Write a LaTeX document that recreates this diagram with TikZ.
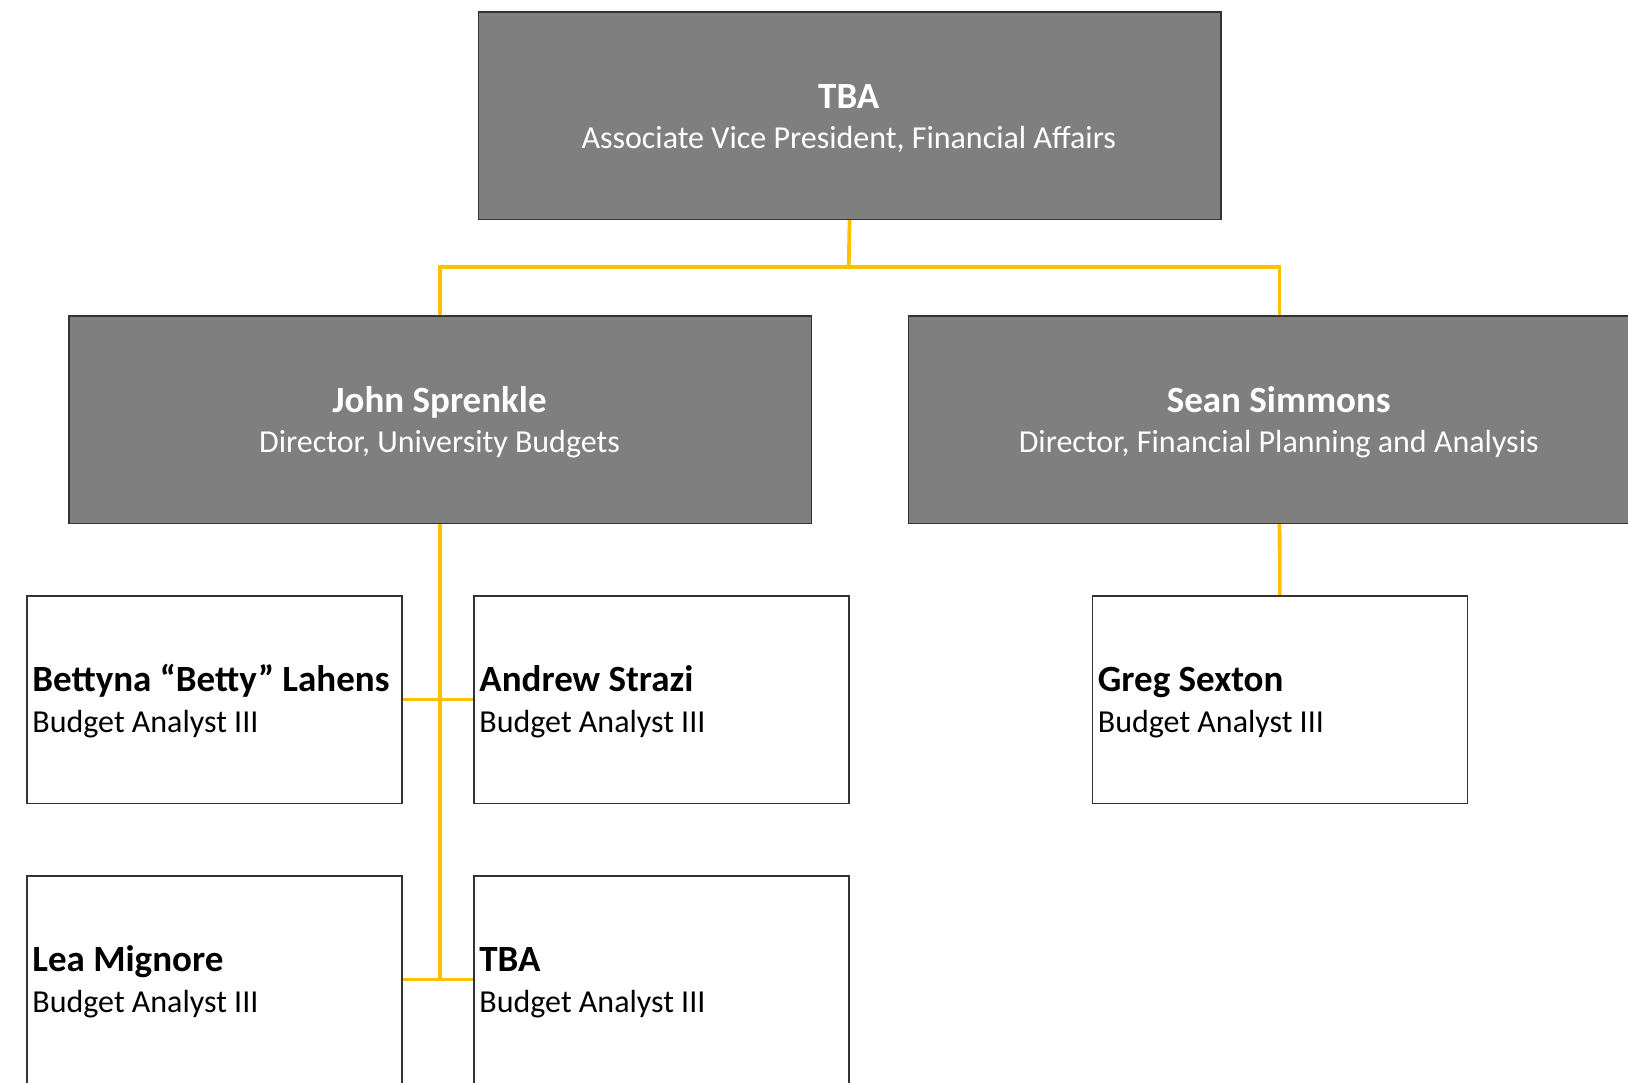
\documentclass[tikz,border=0pt]{standalone}
\usepackage{fontspec}
\setmainfont{Carlito}
\usetikzlibrary{backgrounds}
\definecolor{boxgray}{HTML}{7F7F7F}
\definecolor{boxline}{HTML}{333333}
\definecolor{linkgold}{HTML}{FFC000}
\begin{document}
\begin{tikzpicture}[x=0.5pt,y=-0.5pt,
  graybox/.style={draw=boxline, line width=0.8pt, fill=boxgray, minimum width=371.25pt, minimum height=103.75pt, inner sep=0pt, anchor=north west},
  whitebox/.style={draw=boxline, line width=0.8pt, fill=white, minimum width=187.5pt, minimum height=103.75pt, inner sep=0pt, anchor=north west},
  grayname/.style={font=\fontsize{18.5}{20}\selectfont\bfseries, text=white, inner sep=0pt, anchor=base},
  graytitle/.style={font=\fontsize{16}{18}\selectfont, text=white, inner sep=0pt, anchor=base},
  whitename/.style={font=\fontsize{18.5}{20}\selectfont\bfseries, text=black, inner sep=0pt, anchor=base west},
  whitetitle/.style={font=\fontsize{16}{18}\selectfont, text=black, inner sep=0pt, anchor=base west},
  link/.style={draw=linkgold, line width=1.9pt}]
\useasboundingbox (0,0) rectangle (1628,1082);
\clip (0,0) rectangle (1628,1082);

% boxes
\node[graybox] (top) at (477.5,11) {};
\node[graybox] (l2l) at (68,315) {};
\node[graybox] (l2r) at (907.5,315) {};
\node[whitebox] (betty) at (26,595) {};
\node[whitebox] (andrew) at (473,595) {};
\node[whitebox] (greg) at (1091.5,595) {};
\node[whitebox] (lea) at (26,875) {};
\node[whitebox] (tba) at (473,875) {};

% texts
\node[grayname] (topn) at (848.75,108) {TBA};
\node[graytitle] (topt) at (848.75,148.5) {Associate Vice President, Financial Affairs};
\node[grayname] (l2ln) at (439.5,412) {John Sprenkle};
\node[graytitle] (l2lt) at (439.5,452.5) {Director, University Budgets};
\node[grayname] (l2rn) at (1278.75,412) {Sean Simmons};
\node[graytitle] (l2rt) at (1278.75,452.5) {Director, Financial Planning and Analysis};

\node[whitename] (bettyn) at (32,691.7) {Bettyna “Betty” Lahens};
\node[whitetitle] (bettyt) at (32,732) {Budget Analyst III};
\node[whitename] (andrewn) at (479,691.7) {Andrew Strazi};
\node[whitetitle] (andrewt) at (479,732) {Budget Analyst III};
\node[whitename] (gregn) at (1097.5,691.7) {Greg Sexton};
\node[whitetitle] (gregt) at (1097.5,732) {Budget Analyst III};
\node[whitename] (lean) at (32,971.7) {Lea Mignore};
\node[whitetitle] (leat) at (32,1012) {Budget Analyst III};
\node[whitename] (tban) at (479,971.7) {TBA};
\node[whitetitle] (tbat) at (479,1012) {Budget Analyst III};

% connectors
\coordinate (bus) at (848.75,267);
\coordinate (lbot) at (l2l.south |- lea.east);
\begin{scope}[on background layer]
\draw[link] (top.south) -- (bus);
\draw[link] (l2l.north) |- (bus) -| (l2r.north);
\draw[link] (l2l.south) -- (lbot);
\draw[link] (betty.east) -- (andrew.west);
\draw[link] (lea.east) -- (tba.west);
\draw[link] (l2r.south) -- (greg.north);
\end{scope}
\end{tikzpicture}
\end{document}
